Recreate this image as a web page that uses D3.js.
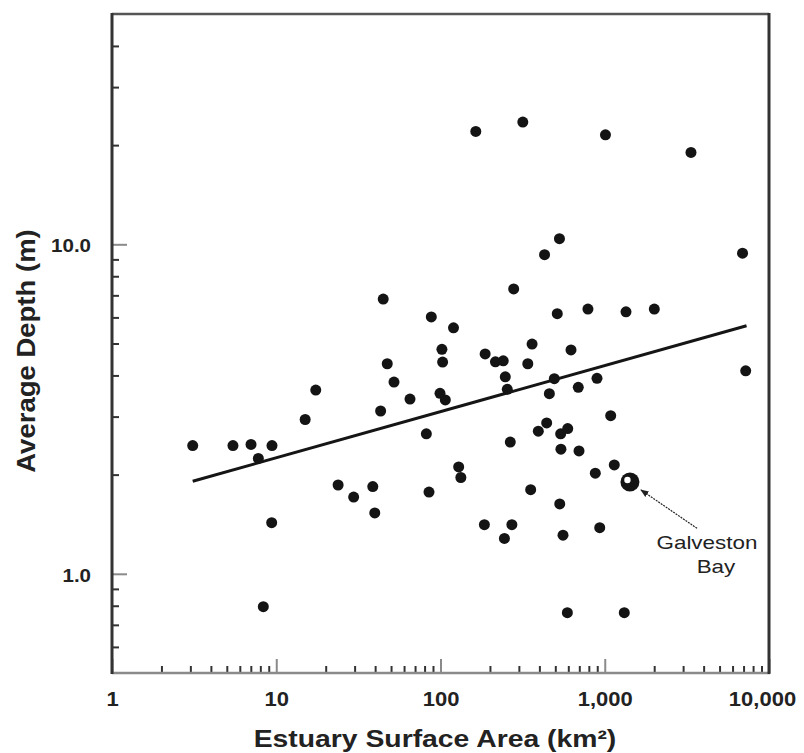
<!DOCTYPE html>
<html>
<head>
<meta charset="utf-8">
<script src="https://cdn.jsdelivr.net/npm/d3@7"></script>
<style>
  body { margin: 0; background: #fff; }
  text { font-family: "Liberation Sans", Arial, sans-serif; fill: #222; }
</style>
</head>
<body>
<svg id="chart" width="804" height="753"></svg>
<script>
// estuary surface area (km2) vs average depth (m)
const area = [164, 317, 1010, 3350, 530, 430, 6900, 279, 44.8, 87.9,
  120, 514, 790, 1347, 2003, 361, 47.4, 52.1, 17.4, 43.2,
  15.0, 3.10, 5.45, 7.02, 9.42, 7.78, 23.8, 29.6, 38.7, 39.8,
  9.38, 8.34, 102, 103, 187, 216, 241, 340, 623, 248,
  255, 493, 460, 690, 897, 65.2, 99.3, 107, 1087, 82,
  266, 443, 394, 539, 595, 541, 697, 129, 133, 85.1,
  354, 876, 1143, 532, 185, 272, 245, 557, 932, 7214,
  592, 1315];
const depth = [22.0, 23.5, 21.5, 19.0, 10.4, 9.3, 9.4, 7.32, 6.82, 6.02,
  5.58, 6.16, 6.36, 6.24, 6.36, 4.98, 4.34, 3.82, 3.61, 3.12,
  2.94, 2.45, 2.45, 2.47, 2.45, 2.24, 1.86, 1.71, 1.84, 1.53,
  1.43, 0.795, 4.80, 4.39, 4.65, 4.40, 4.43, 4.34, 4.78, 3.96,
  3.63, 3.91, 3.52, 3.68, 3.92, 3.39, 3.53, 3.37, 3.02, 2.66,
  2.51, 2.87, 2.71, 2.66, 2.76, 2.39, 2.36, 2.11, 1.96, 1.77,
  1.80, 2.02, 2.14, 1.63, 1.41, 1.41, 1.28, 1.31, 1.38, 4.13,
  0.762, 0.762];

// highlighted estuary
const galvestonArea = 1424;
const galvestonDepth = 1.90;
const galvestonLabel = ["Galveston", "Bay"];

// fitted trend line end points
const fitArea = [3.1, 7300];
const fitDepth = [1.91, 5.66];

const xTickValues = [1, 10, 100, 1000, 10000];
const xTickLabels = ["1", "10", "100", "1,000", "10,000"];
const yTickValues = [1, 10];
const yTickLabels = ["1.0", "10.0"];

const svg = d3.select("#chart");
const margin = {top: 14, right: 35, bottom: 80, left: 112};
const width = 804, height = 753;

const x = d3.scaleLog().domain([1, 10000]).range([margin.left, width - margin.right]);
const y = d3.scaleLog().domain([0.5, 50]).range([height - margin.bottom, margin.top]);

// widen text a bit, the scanned figure is stretched sideways
function stretch(sel, k) {
    sel.each(function () {
        const len = this.getComputedTextLength();
        d3.select(this).attr("textLength", len * k).attr("lengthAdjust", "spacingAndGlyphs");
    });
}

// minor ticks
const xMinor = x.ticks().filter(d => !xTickValues.includes(d));
const yMinor = y.ticks().filter(d => !yTickValues.includes(d) && d > 0.5 && d < 50);

const xMinorAxis = svg.append("g")
    .attr("transform", `translate(0,${y.range()[0]})`)
    .call(d3.axisBottom(x).tickValues(xMinor).tickSize(-7).tickFormat(""));
const yMinorAxis = svg.append("g")
    .attr("transform", `translate(${x.range()[0]},0)`)
    .call(d3.axisLeft(y).tickValues(yMinor).tickSize(-7).tickFormat(""));
[xMinorAxis, yMinorAxis].forEach(g => {
    g.select(".domain").remove();
    g.selectAll("line").attr("stroke", "#333").attr("stroke-width", 2);
});

// major ticks with labels
const xAxis = svg.append("g")
    .attr("transform", `translate(0,${y.range()[0]})`)
    .call(d3.axisBottom(x).tickValues(xTickValues).tickSize(-14).tickPadding(19)
        .tickFormat((d, i) => xTickLabels[i]));
const yAxis = svg.append("g")
    .attr("transform", `translate(${x.range()[0]},0)`)
    .call(d3.axisLeft(y).tickValues(yTickValues).tickSize(-15).tickPadding(21)
        .tickFormat((d, i) => yTickLabels[i]));
[xAxis, yAxis].forEach(g => {
    g.select(".domain").remove();
    g.selectAll("line").attr("stroke", "#8a8a8a").attr("stroke-width", 2);
    g.selectAll("text").attr("font-family", null).attr("fill", "#2a2a2a")
        .attr("font-weight", "bold");
});
xAxis.selectAll("text").attr("font-size", 20);
xAxis.selectAll(".tick").filter(d => d === 10000).select("text").attr("dx", -7);
stretch(xAxis.selectAll("text"), 1.1);
yAxis.selectAll("text").attr("font-size", 19).attr("dy", "0.4em");
stretch(yAxis.selectAll("text"), 1.08);

// frame
const [x0, x1] = x.range();
const [y0, y1] = y.range();
svg.append("line").attr("x1", x0).attr("x2", x1).attr("y1", y1).attr("y2", y1)
    .attr("stroke", "#555").attr("stroke-width", 2.5);
svg.append("line").attr("x1", x0).attr("x2", x1 + 1).attr("y1", y0).attr("y2", y0)
    .attr("stroke", "#8a8a8a").attr("stroke-width", 2.5);
svg.append("line").attr("x1", x0).attr("x2", x0).attr("y1", y1 - 1).attr("y2", y0 + 1)
    .attr("stroke", "#333").attr("stroke-width", 3);
svg.append("line").attr("x1", x1).attr("x2", x1).attr("y1", y1 - 1).attr("y2", y0 + 1)
    .attr("stroke", "#333").attr("stroke-width", 3);

// trend line
const line = d3.line().x(d => x(d[0])).y(d => y(d[1]));
svg.append("path")
    .datum(d3.zip(fitArea, fitDepth))
    .attr("d", line)
    .attr("fill", "none")
    .attr("stroke", "#151515")
    .attr("stroke-width", 3);

// points
svg.append("g")
    .selectAll("circle")
    .data(d3.zip(area, depth))
    .join("circle")
    .attr("cx", d => x(d[0]))
    .attr("cy", d => y(d[1]))
    .attr("r", 5.5)
    .attr("fill", "#141414");

// Galveston Bay marker, arrow and label
const gx = x(galvestonArea), gy = y(galvestonDepth);
svg.append("circle").attr("cx", gx).attr("cy", gy).attr("r", 9.5).attr("fill", "#141414");
svg.append("circle").attr("cx", gx - 2.5).attr("cy", gy - 2).attr("r", 3.2).attr("fill", "#fff");

svg.append("defs").append("marker")
    .attr("id", "head")
    .attr("viewBox", "0 0 10 10")
    .attr("refX", 1).attr("refY", 5)
    .attr("markerWidth", 7).attr("markerHeight", 7)
    .attr("orient", "auto")
    .append("path").attr("d", "M10,1 L0,5 L10,9 Z").attr("fill", "#222");

svg.append("line")
    .attr("x1", gx + 11).attr("y1", gy + 8)
    .attr("x2", gx + 68).attr("y2", gy + 47)
    .attr("stroke", "#222")
    .attr("stroke-width", 1.2)
    .attr("stroke-dasharray", "2,1")
    .attr("marker-start", "url(#head)");

const lab = svg.append("g").attr("font-size", 19);
lab.append("text").attr("x", gx + 77).attr("y", gy + 67).attr("text-anchor", "middle")
    .text(galvestonLabel[0]);
lab.append("text").attr("x", gx + 86).attr("y", gy + 91).attr("text-anchor", "middle")
    .text(galvestonLabel[1]);
stretch(lab.selectAll("text"), 1.18);

// axis titles
const xTitle = svg.append("text")
    .attr("x", 435).attr("y", 747)
    .attr("text-anchor", "middle")
    .attr("font-size", 24).attr("font-weight", "bold")
    .text("Estuary Surface Area (km²)");
stretch(xTitle, 1.18);

const yTitle = svg.append("text")
    .attr("transform", "translate(35,351) rotate(-90)")
    .attr("text-anchor", "middle")
    .attr("font-size", 25).attr("font-weight", "bold")
    .text("Average Depth (m)");
stretch(yTitle, 1.1);
</script>
</body>
</html>
